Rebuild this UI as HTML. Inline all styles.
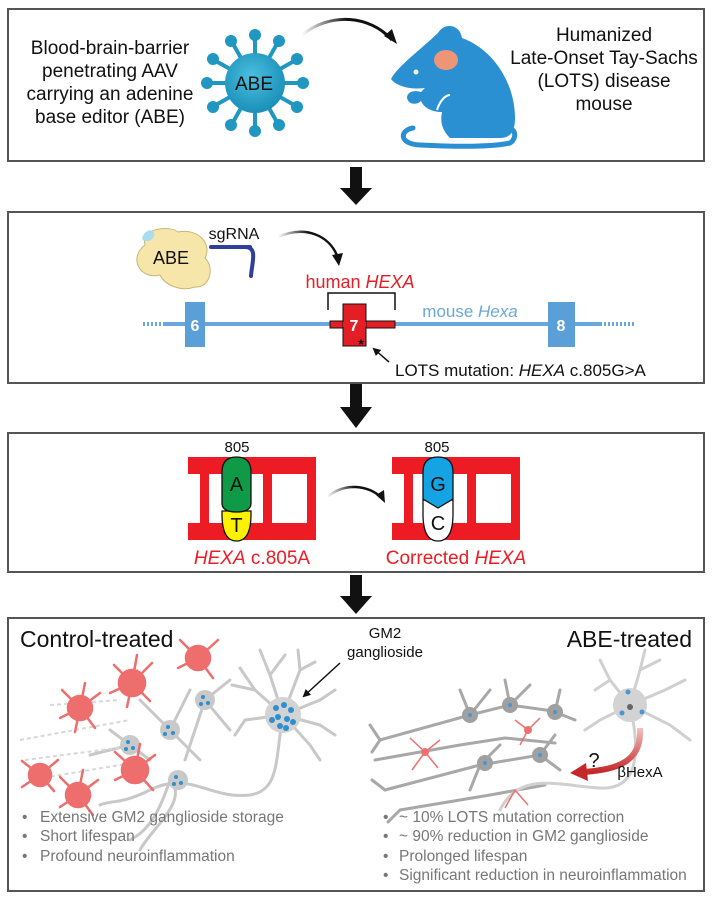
<!DOCTYPE html>
<html><head><meta charset="utf-8"><style>
html,body{margin:0;padding:0;background:#fff}
svg{display:block}
text{font-family:"Liberation Sans",Arial,sans-serif}
</style></head><body>
<svg width="712" height="900" viewBox="0 0 712 900" xmlns="http://www.w3.org/2000/svg">
<defs>
<marker id="ah" markerWidth="8" markerHeight="8" refX="6" refY="4" orient="auto" markerUnits="userSpaceOnUse"><path d="M0,0 L8,4 L0,8 Z" fill="#111"/></marker>
<linearGradient id="ga" x1="0" x2="1"><stop offset="0" stop-color="#111" stop-opacity="0"/><stop offset="0.5" stop-color="#111"/></linearGradient>
<linearGradient id="rg" x1="0" y1="0" x2="0" y2="1"><stop offset="0" stop-color="#f3c0c0"/><stop offset="1" stop-color="#c42828"/></linearGradient>
<radialGradient id="vg" cx="0.45" cy="0.4" r="0.6"><stop offset="0" stop-color="#4bc0e0"/><stop offset="1" stop-color="#1a8fb8"/></radialGradient>
</defs>
<g fill="none" stroke="#555" stroke-width="2">
<rect x="8" y="9" width="696" height="152"/>
<rect x="8" y="212" width="696" height="171"/>
<rect x="8" y="433" width="696" height="139"/>
<rect x="8" y="618" width="696" height="273"/>
</g>
<g fill="#111">
<rect x="350" y="167" width="12" height="22"/><path d="M340,188 L372,188 L356,205 Z"/>
<rect x="350" y="384" width="12" height="24"/><path d="M340,407 L372,407 L356,428 Z"/>
<rect x="350" y="575" width="12" height="22"/><path d="M340,596 L372,596 L356,614 Z"/>
</g>
<!-- Box1 -->
<g font-size="19" fill="#111" text-anchor="middle">
<text x="110" y="54">Blood-brain-barrier</text>
<text x="110" y="77">penetrating AAV</text>
<text x="110" y="100">carrying an adenine</text>
<text x="110" y="123">base editor (ABE)</text>
<text x="604" y="41">Humanized</text>
<text x="604" y="64">Late-Onset Tay-Sachs</text>
<text x="604" y="87">(LOTS) disease</text>
<text x="604" y="110">mouse</text>
</g>
<g stroke="#1f97c0" stroke-width="4" fill="#1f97c0">
<line x1="255" y1="83" x2="255" y2="36"/><line x1="255" y1="83" x2="255" y2="130"/>
<line x1="255" y1="83" x2="208" y2="83"/><line x1="255" y1="83" x2="302" y2="83"/>
<line x1="255" y1="83" x2="278" y2="42"/><line x1="255" y1="83" x2="232" y2="42"/>
<line x1="255" y1="83" x2="278" y2="124"/><line x1="255" y1="83" x2="232" y2="124"/>
<line x1="255" y1="83" x2="296" y2="60"/><line x1="255" y1="83" x2="214" y2="60"/>
<line x1="255" y1="83" x2="296" y2="106"/><line x1="255" y1="83" x2="214" y2="106"/>
<g stroke="none">
<circle cx="255" cy="35" r="6"/><circle cx="255" cy="131" r="6"/><circle cx="207" cy="83" r="6"/><circle cx="303" cy="83" r="6"/>
<circle cx="279" cy="41" r="6"/><circle cx="231" cy="41" r="6"/><circle cx="279" cy="125" r="6"/><circle cx="231" cy="125" r="6"/>
<circle cx="297" cy="59" r="6"/><circle cx="213" cy="59" r="6"/><circle cx="297" cy="107" r="6"/><circle cx="213" cy="107" r="6"/>
</g></g>
<circle cx="255" cy="83" r="30" fill="url(#vg)"/>
<text x="254" y="90" font-size="19" text-anchor="middle" fill="#111">ABE</text>
<path d="M302,35 C330,12 370,15 392,40" fill="none" stroke="url(#ga)" stroke-width="3"/>
<path d="M384,36 L397,44 L392,29 Z" fill="#111"/>
<!-- mouse -->
<path d="M438,33 C444,22 460,24 462,38 C495,50 515,85 515,118 C515,132 510,138 500,138 L450,138 C442,130 440,122 442,112 C432,112 424,108 421,101 C416,106 407,104 407,97 C408,91 415,90 421,92 L425,88 C410,90 396,86 391,79 C398,66 420,50 438,33 Z" fill="#2a90d2"/>
<path d="M413,128 C400,130 398,144 420,145 C460,147 492,147 510,143 C518,138 515,126 507,130" fill="none" stroke="#2a90d2" stroke-width="5" stroke-linecap="round"/>
<path d="M437,110 C440,100 446,95 450,95" fill="none" stroke="#fff" stroke-width="2"/>
<circle cx="416" cy="72" r="2.5" fill="#fff"/>
<ellipse cx="446" cy="60" rx="12" ry="10" fill="#ee9577"/>
<!-- Box2 -->
<path d="M145,245 C140,228 170,225 178,232 C200,228 212,245 205,258 C215,268 210,288 195,287 C180,292 165,285 160,275 C140,280 128,258 145,245 Z" fill="#f7e6a9" stroke="#c9b678" stroke-width="1"/>
<path d="M142,238 C145,228 156,228 154,236 C152,242 143,243 142,238 Z" fill="#a8dcef"/>
<text x="171" y="264" font-size="18" text-anchor="middle" fill="#111">ABE</text>
<text x="234" y="239" font-size="16" text-anchor="middle" fill="#111">sgRNA</text>
<path d="M211,247 L250,247 M245,247 C258,247 252,262 251,276" fill="none" stroke="#2f3f9e" stroke-width="4" stroke-linecap="round"/>
<path d="M278,237 C305,225 330,235 338,258" fill="none" stroke="url(#ga)" stroke-width="2.5"/>
<path d="M332,255 L339,266 L343,253 Z" fill="#111"/>
<text x="360" y="288" font-size="18" text-anchor="middle" fill="#e31e24">human <tspan font-style="italic">HEXA</tspan></text>
<path d="M328,310 L328,293 L395,293 L395,310" fill="none" stroke="#111" stroke-width="1.5"/>
<line x1="165" y1="324" x2="600" y2="324" stroke="#6aa8dc" stroke-width="4"/>
<line x1="143" y1="324" x2="165" y2="324" stroke="#6aa8dc" stroke-width="4" stroke-dasharray="2,2"/>
<line x1="600" y1="324" x2="636" y2="324" stroke="#6aa8dc" stroke-width="4" stroke-dasharray="2,2"/>
<rect x="185" y="302" width="20" height="45" fill="#5b9fd8"/>
<text x="195" y="331" font-size="16" font-weight="bold" text-anchor="middle" fill="#fff">6</text>
<rect x="548" y="302" width="27" height="45" fill="#5b9fd8"/>
<text x="561" y="331" font-size="16" font-weight="bold" text-anchor="middle" fill="#fff">8</text>
<rect x="330" y="321" width="65" height="7" fill="#e31e24" stroke="#111" stroke-width="1"/>
<rect x="343" y="304" width="23" height="42" fill="#e31e24" stroke="#111" stroke-width="1"/>
<rect x="343" y="322" width="23" height="5" fill="#e31e24"/>
<text x="354" y="331" font-size="16" font-weight="bold" text-anchor="middle" fill="#fff">7</text>
<text x="361" y="349" font-size="14" font-weight="bold" text-anchor="middle" fill="#111">*</text>
<text x="470" y="317" font-size="17" fill="#6aa8dc" text-anchor="middle">mouse <tspan font-style="italic">Hexa</tspan></text>
<line x1="389" y1="362" x2="374" y2="349" stroke="#111" stroke-width="1.5" marker-end="url(#ah)"/>
<text x="395" y="376" font-size="17" fill="#111">LOTS mutation: <tspan font-style="italic">HEXA</tspan> c.805G&gt;A</text>
<!-- Box3 -->
<g fill="#ed1c24">
<rect x="188" y="457" width="128" height="17"/><rect x="188" y="523" width="128" height="17"/>
<rect x="200" y="470" width="9" height="56"/><rect x="263" y="470" width="9" height="56"/><rect x="307" y="470" width="9" height="56"/>
<rect x="392" y="457" width="128" height="17"/><rect x="392" y="523" width="128" height="17"/>
<rect x="404" y="470" width="9" height="56"/><rect x="467" y="470" width="9" height="56"/><rect x="511" y="470" width="9" height="56"/>
</g>
<path d="M222,511 L222,514 Q222,541 236.5,541 Q251,541 251,514 L251,511 Z" fill="#fff200" stroke="#111" stroke-width="1.3"/>
<path d="M222,503 L222,472 Q222,457 236.5,457 Q251,457 251,472 L251,503 Q251,512 236.5,512 Q222,512 222,503 Z" fill="#0f9a48" stroke="#111" stroke-width="1.3"/>
<text x="236.5" y="491" font-size="20" text-anchor="middle" fill="#111">A</text>
<text x="236.5" y="532" font-size="20" text-anchor="middle" fill="#111">T</text>
<path d="M423,500 L423,514 Q423,541 438,541 Q453,541 453,514 L453,500 Z" fill="#fff" stroke="#111" stroke-width="1.3"/>
<path d="M423,499 L423,472 Q423,457 438,457 Q453,457 453,472 L453,499 L438,508 Z" fill="#14a4e4" stroke="#111" stroke-width="1.3"/>
<text x="438" y="491" font-size="20" text-anchor="middle" fill="#111">G</text>
<text x="438" y="530" font-size="20" text-anchor="middle" fill="#111">C</text>
<text x="237" y="452" font-size="15" text-anchor="middle" fill="#111">805</text>
<text x="437" y="452" font-size="15" text-anchor="middle" fill="#111">805</text>
<path d="M327,497 C345,482 368,485 382,498" fill="none" stroke="url(#ga)" stroke-width="2.5"/>
<path d="M376,495 L385,503 L384,490 Z" fill="#111"/>
<text x="252" y="564" font-size="19" text-anchor="middle" fill="#ed1c24"><tspan font-style="italic">HEXA</tspan> c.805A</text>
<text x="456" y="564" font-size="19" text-anchor="middle" fill="#ed1c24">Corrected <tspan font-style="italic">HEXA</tspan></text>
<!-- Box4 -->
<text x="20" y="647" font-size="23" fill="#111">Control-treated</text>
<text x="692" y="647" font-size="23" fill="#111" text-anchor="end">ABE-treated</text>
<text x="385" y="638" font-size="15" text-anchor="middle" fill="#111">GM2</text>
<text x="385" y="657" font-size="15" text-anchor="middle" fill="#111">ganglioside</text>
<line x1="340" y1="663" x2="304" y2="696" stroke="#111" stroke-width="1.5" marker-end="url(#ah)"/>
<g stroke="#c8c8c8" stroke-width="3" fill="none" stroke-linecap="round">
<path d="M283,715 C275,760 280,790 250,795 C210,800 190,770 150,790 C120,805 110,800 100,805"/>
<path d="M283,715 L255,690 L240,668 M255,690 L232,685 M283,715 L270,675 L260,650 M270,675 L285,655 M283,715 L300,670 L298,650 M300,670 L315,662 M283,715 L320,700 L335,690 M283,715 L320,725 L335,735 M283,715 L310,745 L320,760 M283,715 L245,720 L235,735"/>
<path d="M170,780 C160,810 150,830 130,840 M170,780 C190,800 150,830 140,850"/>
<path d="M170,730 L140,700 M170,730 L190,690 M170,730 L200,760 M205,700 L230,680 M205,700 L185,760 M205,700 L230,730 M130,745 L110,730 M130,745 L150,760 M130,745 L90,755"/>
</g>
<g stroke="#d8d8d8" stroke-width="2" stroke-dasharray="4,3" fill="none">
<path d="M20,740 L130,720 M25,760 L140,745 M30,780 L150,760 M50,705 L120,700"/>
</g>
<circle cx="283" cy="715" r="18" fill="#d3d3d3"/>
<g fill="#c9c9c9"><circle cx="170" cy="730" r="10"/><circle cx="205" cy="700" r="10"/><circle cx="130" cy="745" r="10"/><circle cx="178" cy="780" r="10"/></g>
<g fill="#2d8fd0">
<circle cx="276" cy="708" r="3"/><circle cx="284" cy="705" r="3"/><circle cx="291" cy="710" r="3"/><circle cx="278" cy="717" r="3"/><circle cx="287" cy="719" r="3"/><circle cx="293" cy="722" r="3"/><circle cx="280" cy="726" r="3"/><circle cx="272" cy="720" r="3"/><circle cx="286" cy="728" r="3"/>
<circle cx="168" cy="727" r="2"/><circle cx="173" cy="733" r="2"/><circle cx="165" cy="734" r="2"/>
<circle cx="203" cy="697" r="2"/><circle cx="208" cy="703" r="2"/><circle cx="201" cy="704" r="2"/>
<circle cx="128" cy="742" r="2"/><circle cx="133" cy="748" r="2"/><circle cx="126" cy="749" r="2"/>
<circle cx="176" cy="777" r="2"/><circle cx="181" cy="783" r="2"/><circle cx="174" cy="784" r="2"/>
</g>
<g fill="#ee6d6d" stroke="#ee6d6d" stroke-width="2.5" stroke-linecap="round">
<g transform="translate(80,708)"><circle r="12"/><path d="M0,0 L-18,-18 M0,0 L20,-15 M0,0 L-20,10 M0,0 L15,20 M0,0 L5,-25 M0,0 L-5,24"/></g>
<g transform="translate(132,683)"><circle r="13"/><path d="M0,0 L-18,-18 M0,0 L20,-20 M0,0 L-22,10 M0,0 L18,18 M0,0 L5,-28 M0,0 L-5,24"/></g>
<g transform="translate(198,658)"><circle r="12"/><path d="M0,0 L-18,-18 M0,0 L20,-18 M0,0 L-20,10 M0,0 L15,20"/></g>
<g transform="translate(40,775)"><circle r="11"/><path d="M0,0 L-18,-14 M0,0 L18,-15 M0,0 L-18,12 M0,0 L14,16"/></g>
<g transform="translate(78,795)"><circle r="12"/><path d="M0,0 L-18,-18 M0,0 L20,-15 M0,0 L-18,12 M0,0 L15,20 M0,0 L5,-25"/></g>
<g transform="translate(135,770)"><circle r="13"/><path d="M0,0 L-20,-18 M0,0 L20,-15 M0,0 L-20,10 M0,0 L18,20 M0,0 L5,-26"/></g>
</g>
<g stroke="#a8a8a8" stroke-width="3" fill="none" stroke-linecap="round">
<path d="M380,740 L470,715 L510,705 L560,712 M375,760 L460,745 L505,738 L555,743 M385,790 L480,765 L540,755 M400,810 L490,795 L545,785"/>
<path d="M470,715 L460,690 M470,715 L490,690 M510,705 L505,680 M510,705 L530,685 M555,712 L560,690 M555,712 L575,720 M480,765 L470,790 M480,765 L500,745 M540,755 L555,735 M540,755 L560,770 M380,740 L370,725 M380,740 L372,752 M385,790 L372,780 M400,810 L388,822"/>
</g>
<g fill="#a0a0a0"><circle cx="470" cy="715" r="8"/><circle cx="510" cy="705" r="8"/><circle cx="555" cy="712" r="8"/><circle cx="485" cy="763" r="8"/><circle cx="540" cy="755" r="8"/></g>
<g stroke="#d0d0d0" stroke-width="3" fill="none" stroke-linecap="round">
<path d="M630,705 C640,750 640,790 600,788 C560,786 520,770 500,810"/>
<path d="M630,705 L610,680 L600,660 M630,705 L640,670 L645,650 M630,705 L665,690 L685,680 M630,705 L670,725 L690,740 M630,705 L600,720 L585,730 M610,680 L595,690 M640,670 L660,660"/>
</g>
<circle cx="630" cy="705" r="17" fill="#d3d3d3"/>
<circle cx="630" cy="707" r="3" fill="#666"/>
<g fill="#4a96d0"><circle cx="628" cy="692" r="2.5"/><circle cx="622" cy="713" r="2.5"/><circle cx="642" cy="712" r="2.5"/><circle cx="470" cy="715" r="2"/><circle cx="510" cy="705" r="2"/><circle cx="555" cy="712" r="2"/><circle cx="485" cy="763" r="2"/><circle cx="540" cy="755" r="2"/></g>
<g stroke="#ee7070" stroke-width="1.5" fill="none">
<path d="M425,752 L410,738 M425,752 L440,740 M425,752 L412,770 M425,752 L438,768 M528,730 L515,720 M528,730 L540,718 M528,730 L520,745 M515,790 L505,808 M515,790 L528,805"/>
</g>
<g fill="#ee7070"><circle cx="425" cy="752" r="4"/><circle cx="528" cy="730" r="4"/></g>
<path d="M640,728 C642,760 620,770 582,772" fill="none" stroke="url(#rg)" stroke-width="6"/>
<path d="M586,763 L570,773 L588,781 Z" fill="#c42828"/>
<text x="594" y="767" font-size="20" text-anchor="middle" fill="#111">?</text>
<text x="640" y="777" font-size="15" text-anchor="middle" fill="#111">βHexA</text>
<g font-size="15.5" fill="#777">
<text x="22" y="822">•</text><text x="40" y="822">Extensive GM2 ganglioside storage</text>
<text x="22" y="841">•</text><text x="40" y="841">Short lifespan</text>
<text x="22" y="861">•</text><text x="40" y="861">Profound neuroinflammation</text>
<text x="383" y="822">•</text><text x="399" y="822">~ 10% LOTS mutation correction</text>
<text x="383" y="841">•</text><text x="399" y="841">~ 90% reduction in GM2 ganglioside</text>
<text x="383" y="861">•</text><text x="399" y="861">Prolonged lifespan</text>
<text x="383" y="880">•</text><text x="399" y="880">Significant reduction in neuroinflammation</text>
</g>
</svg>
</body></html>
